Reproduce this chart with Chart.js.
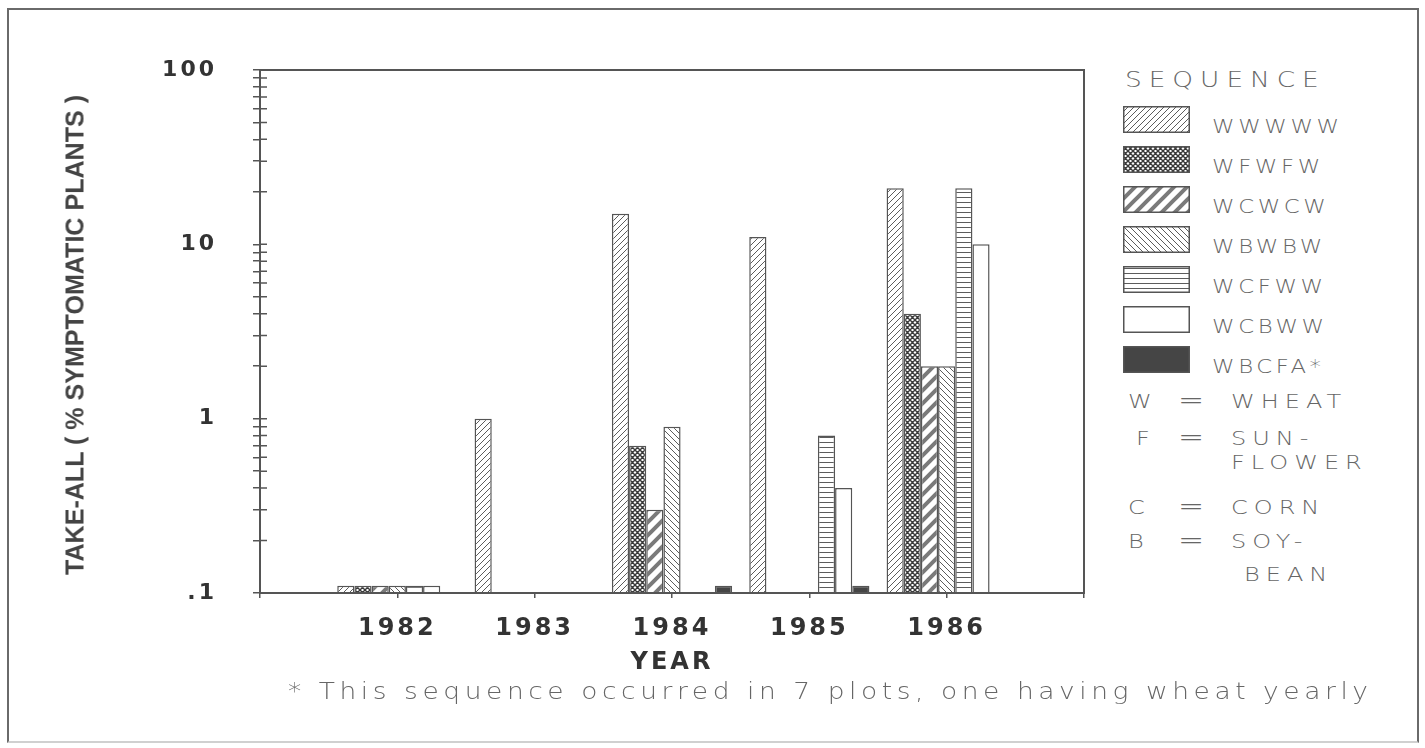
<!DOCTYPE html>
<html>
<head>
<meta charset="utf-8">
<script src="https://cdn.jsdelivr.net/npm/chart.js@4.4.1/dist/chart.umd.min.js"></script>
<style>
  html, body { margin: 0; padding: 0; background: #fff; }
  body { width: 1425px; height: 748px; position: relative; overflow: hidden;
         font-family: "DejaVu Sans", sans-serif; color: #666; }
  #frame { position: absolute; left: 7px; top: 8px; width: 1408px; height: 731px;
           border: 2px solid #6a6a6a; border-bottom-color: #d0d0d0; }
  #wrap { position: absolute; left: 0; top: 0; width: 1100px; height: 700px; }
  #ytitle { position: absolute; left: 75px; top: 335px; white-space: nowrap;
            font: bold 25px "Liberation Sans Narrow", "Liberation Sans", sans-serif; color: #444; }
  .thin { position: absolute; white-space: nowrap; font-family: "DejaVu Sans", sans-serif;
          font-weight: 200; color: #666; line-height: 1; transform-origin: 0 0; }
  .sw { position: absolute; }
</style>
</head>
<body>
<div id="frame"></div>
<div id="wrap"><canvas id="chart"></canvas></div>
<div id="ytitle">TAKE-ALL ( % SYMPTOMATIC PLANTS )</div>
<div id="legend"></div>
<div class="thin" id="note" style="left:288px; top:680px; font-size:23px;">* This sequence occurred in 7 plots, one having wheat yearly</div>

<script>
// years on the x axis, padded with empty slots at both ends of the frame
const years = ['', '1982', '1983', '1984', '1985', '1986', ''];
const sequences = ['WWWWW', 'WFWFW', 'WCWCW', 'WBWBW', 'WCFWW', 'WCBWW', 'WBCFA*'];

// % symptomatic plants (null = no bar)
const wwwww = [null, 0.11, 1.0, 15, 11, 21, null];
const wfwfw = [null, 0.11, null, 0.7, null, 4, null];
const wcwcw = [null, 0.11, null, 0.3, null, 2, null];
const wbwbw = [null, 0.11, null, 0.9, null, 2, null];
const wcfww = [null, 0.11, null, null, 0.8, 21, null];
const wcbww = [null, 0.11, null, null, 0.4, 10, null];
const wbcfa = [null, null, null, 0.11, 0.11, null, null];

const yTicks = [0.1, 0.2, 0.3, 0.4, 0.5, 0.6, 0.7, 0.8, 0.9,
                1, 2, 3, 4, 5, 6, 7, 8, 9,
                10, 20, 30, 40, 50, 60, 70, 80, 90, 100];
const yMajor = [0.1, 1, 10, 100];
const yMajorLabels = ['.1', '1', '10', '100'];

const cropKey = [
  ['W', 'WHEAT', ''],
  ['F', 'SUN-', 'FLOWER'],
  ['C', 'CORN', ''],
  ['B', 'SOY-', 'BEAN']
];

const series = [wwwww, wfwfw, wcwcw, wbwbw, wcfww, wcbww, wbcfa];
const fillKinds = ['fine', 'cross', 'thick', 'back', 'horiz', 'white', 'solid'];

function makeFill(ctx, kind) {
  if (kind === 'white') return '#ffffff';
  if (kind === 'solid') return '#454545';
  const c = document.createElement('canvas');
  const g = c.getContext('2d');
  let s = 6;
  if (kind === 'cross') s = 5;
  if (kind === 'thick') s = 13;
  c.width = s;
  c.height = (kind === 'horiz') ? 5 : s;
  g.fillStyle = '#fff';
  g.fillRect(0, 0, c.width, c.height);
  g.beginPath();
  if (kind === 'fine' || kind === 'thick' || kind === 'cross') {
    g.moveTo(0, s); g.lineTo(s, 0);
    g.moveTo(-2, 2); g.lineTo(2, -2);
    g.moveTo(s - 2, s + 2); g.lineTo(s + 2, s - 2);
  }
  if (kind === 'back' || kind === 'cross') {
    g.moveTo(0, 0); g.lineTo(s, s);
    g.moveTo(-2, s - 2); g.lineTo(2, s + 2);
    g.moveTo(s - 2, -2); g.lineTo(s + 2, 2);
  }
  if (kind === 'horiz') {
    g.moveTo(0, 2.5); g.lineTo(s, 2.5);
  }
  g.strokeStyle = kind === 'cross' ? '#3a3a3a' : (kind === 'thick' ? '#7a7a7a' : '#5c5c5c');
  g.lineWidth = kind === 'thick' ? 4 : (kind === 'cross' ? 1.4 : 1);
  g.stroke();
  return ctx.createPattern(c, 'repeat');
}

const canvas = document.getElementById('chart');
const ctx = canvas.getContext('2d');

const spacing = {
  id: 'spacing',
  beforeLayout(chart) { chart.ctx.letterSpacing = '3px'; },
  beforeDraw(chart) { chart.ctx.letterSpacing = '3px'; }
};

const frame = {
  id: 'frame',
  afterDraw(chart) {
    const a = chart.chartArea;
    const c = chart.ctx;
    const y = chart.scales.y;
    c.save();
    c.strokeStyle = '#555';
    c.lineWidth = 2;
    c.strokeRect(a.left, a.top, a.right - a.left, a.bottom - a.top);
    c.lineWidth = 1.5;
    c.beginPath();
    y.ticks.forEach(t => {
      const py = y.getPixelForValue(t.value);
      c.moveTo(a.left, py);
      c.lineTo(a.left + 7, py);
    });
    c.stroke();
    c.restore();
  }
};

new Chart(canvas, {
  type: 'bar',
  data: {
    labels: years,
    datasets: sequences.map((s, i) => ({
      label: s,
      data: series[i],
      backgroundColor: makeFill(ctx, fillKinds[i]),
      borderColor: '#555',
      borderWidth: 1.5,
      categoryPercentage: 0.875,
      barPercentage: 1
    }))
  },
  options: {
    responsive: true,
    maintainAspectRatio: false,
    animation: false,
    layout: { padding: { top: 70, right: 16, bottom: 23, left: 0 } },
    plugins: { legend: { display: false }, tooltip: { enabled: false } },
    scales: {
      x: {
        offset: false,
        grid: { offset: false, drawOnChartArea: false, tickLength: 5, color: '#555', lineWidth: 1.5 },
        border: { color: '#555', width: 2 },
        ticks: { autoSkip: false, maxRotation: 0, padding: 16, color: '#333',
                 font: { family: 'DejaVu Sans', weight: 'bold', size: 24 } },
        title: { display: true, text: 'YEAR', color: '#333', padding: { top: 0, bottom: 0 },
                 font: { family: 'DejaVu Sans', weight: 'bold', size: 24 } },
        afterFit(s) { s.height = 84; }
      },
      y: {
        type: 'logarithmic',
        min: 0.1,
        max: 100,
        afterBuildTicks(s) { s.ticks = yTicks.map(v => ({ value: v })); },
        grid: { drawOnChartArea: false, tickLength: 7, color: '#555', lineWidth: 1.5 },
        border: { color: '#555', width: 2 },
        ticks: {
          autoSkip: false, padding: 36, color: '#333',
          font: { family: 'DejaVu Sans', weight: 'bold', size: 22 },
          callback(v) {
            const k = yMajor.findIndex(m => Math.abs(m - v) < 1e-9);
            return k >= 0 ? yMajorLabels[k] : '';
          }
        },
        afterFit(s) { s.width = 260; }
      }
    }
  },
  plugins: [spacing, frame]
});

// legend on the right: wide, thin lettering
const legend = document.getElementById('legend');
function addText(txt, x, top, size, ls) {
  const d = document.createElement('div');
  d.className = 'thin';
  d.textContent = txt;
  d.style.left = x + 'px';
  d.style.top = top + 'px';
  d.style.fontSize = size + 'px';
  d.style.letterSpacing = ls + 'px';
  d.style.transform = 'scaleX(1.2)';
  legend.appendChild(d);
  return d;
}
addText('SEQUENCE', 1125, 69, 22, 5.8);
sequences.forEach((s, i) => {
  const top = 106 + 40 * i;
  const sw = document.createElement('canvas');
  sw.className = 'sw';
  sw.width = 67; sw.height = 27;
  sw.style.left = '1123px';
  sw.style.top = top + 'px';
  const g = sw.getContext('2d');
  g.fillStyle = makeFill(g, fillKinds[i]);
  g.fillRect(0, 0, 67, 27);
  g.strokeStyle = '#555';
  g.lineWidth = 1.5;
  g.strokeRect(0.75, 0.75, 65.5, 25.5);
  legend.appendChild(sw);
  addText(s, 1212, top + 11, 19, 3);
});
const keyTops = [[391, null], [428, 452], [497, null], [531, 564]];
cropKey.forEach((k, i) => {
  const [t1, t2] = keyTops[i];
  addText(k[0], k[0] === 'F' ? 1136 : 1128, t1, 20, 0);
  addText('=', 1178, t1 - 4, 26, 0);
  addText(k[1], 1231, t1, 20, 5);
  if (k[2]) addText(k[2], k[2] === 'BEAN' ? 1244 : 1231, t2, 20, 5);
});

// stretch the footnote and rotated axis title to the reference extents
const note = document.getElementById('note');
const noteScale = 1.15;
note.style.letterSpacing = '0px';
const w0 = note.getBoundingClientRect().width;
const n = note.textContent.length;
note.style.letterSpacing = ((1080 / noteScale - w0) / (n - 1)) + 'px';
note.style.transform = 'scaleX(' + noteScale + ')';

const yt = document.getElementById('ytitle');
const tw = yt.getBoundingClientRect().width;
yt.style.transform = 'translate(-50%, -50%) rotate(-90deg) scaleX(' + (480 / tw) + ')';
</script>
</body>
</html>
